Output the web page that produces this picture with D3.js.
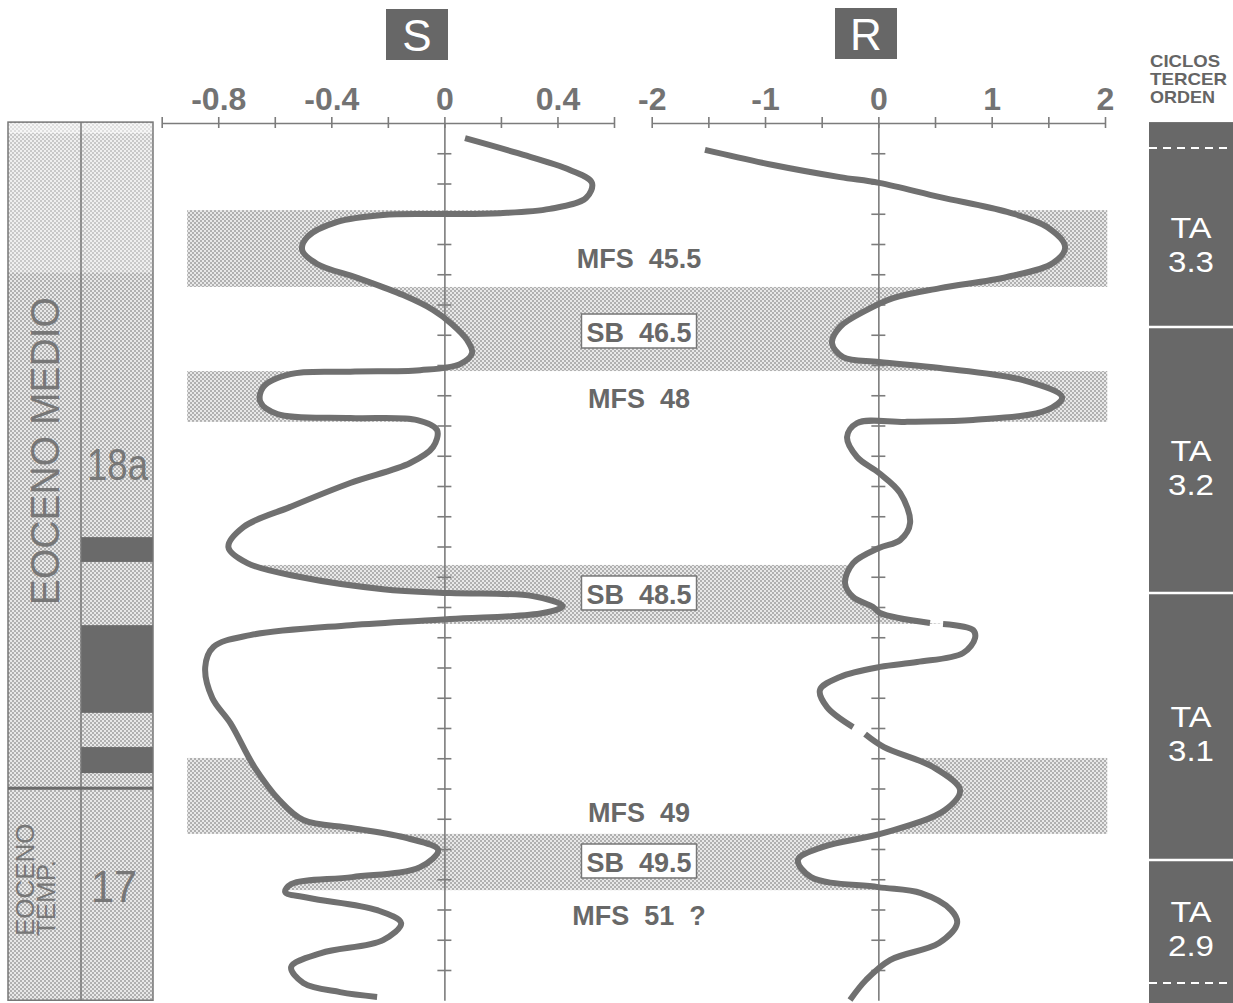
<!DOCTYPE html>
<html><head><meta charset="utf-8">
<script src="https://cdn.jsdelivr.net/npm/d3@7"></script>
<style>
html,body{margin:0;padding:0;background:#fff;}
svg{display:block;font-family:"Liberation Sans",Arial,sans-serif;}
text{white-space:pre;}
</style></head><body>
<svg id="chart" width="1233" height="1003"></svg>
<script>
// ---------- DATA ----------
const sTickValues = [-1.0,-0.8,-0.6,-0.4,-0.2,0,0.2,0.4,0.6];
const sTickLabels = ["","-0.8","","-0.4","","0","","0.4",""];
const rTickValues = [-2,-1.5,-1,-0.5,0,0.5,1,1.5,2];
const rTickLabels = ["-2","","-1","","0","","1","","2"];
const depthTicks = [1,2,3,4,5,6,7,8,9,10,11,12,13,14,15,16,17,18,19,20,21,22,23,24,25,26,27,28];

// S curve (depth in tick units, value on S axis)
const sDepth = [0.50,0.99,1.55,1.98,2.48,2.84,2.98,3.01,3.04,3.27,3.77,4.20,4.66,5.12,5.69,6.18,6.65,7.17,7.60,7.97,8.17,8.22,8.30,8.73,9.22,9.62,9.75,9.82,10.15,10.71,11.24,11.90,12.69,13.36,14.02,14.55,15.01,15.41,15.54,15.64,15.97,16.20,16.40,16.60,16.93,17.32,17.98,19.01,19.84,21.29,22.38,23.04,23.31,23.64,24.03,24.60,24.93,25.16,25.42,25.62,26.02,26.45,27.01,27.44,27.90,28.43,28.73,28.89];
const sValue = [0.073,0.257,0.444,0.522,0.501,0.373,0.197,-0.005,-0.217,-0.379,-0.485,-0.503,-0.450,-0.308,-0.146,-0.040,0.027,0.080,0.098,0.055,-0.086,-0.333,-0.545,-0.641,-0.651,-0.591,-0.333,-0.096,-0.026,-0.040,-0.121,-0.333,-0.545,-0.711,-0.764,-0.697,-0.510,-0.217,0.020,0.313,0.419,0.349,0.020,-0.333,-0.687,-0.817,-0.846,-0.821,-0.757,-0.672,-0.584,-0.499,-0.326,-0.132,-0.022,-0.086,-0.326,-0.542,-0.563,-0.478,-0.238,-0.153,-0.217,-0.436,-0.542,-0.499,-0.369,-0.238];

// R curve (null = break in the line)
const rDepth = [0.89,1.39,1.79,1.98,2.45,2.94,3.44,4.10,4.63,5.09,5.46,5.79,6.18,6.74,7.27,7.74,7.90,8.10,8.50,9.06,9.49,9.82,9.88,9.92,10.38,11.04,11.57,12.23,13.22,13.79,14.05,14.55,15.21,15.67,16.00,16.20,16.53,16.545,16.56,16.76,17.03,17.52,17.82,17.98,18.31,18.74,19.31,19.97,20.08,20.20,20.63,21.29,22.05,22.71,23.47,23.93,24.36,24.93,25.26,25.46,26.02,26.45,27.11,27.67,28.33,28.99];
const rValue = [-1.530,-0.929,-0.338,0.006,0.545,1.136,1.489,1.648,1.542,1.136,0.545,0.130,-0.100,-0.338,-0.409,-0.312,0.006,0.545,1.277,1.621,1.489,0.836,0.253,-0.188,-0.276,-0.188,0.006,0.192,0.280,0.192,0.006,-0.223,-0.294,-0.223,-0.047,0.015,0.456,null,0.571,0.836,0.853,0.748,0.342,0.015,-0.338,-0.515,-0.453,-0.223,null,-0.117,0.050,0.483,0.721,0.589,0.050,-0.488,-0.709,-0.594,-0.003,0.377,0.642,0.695,0.536,0.103,-0.109,-0.250];

// Shaded intervals
const bandKind   = ["MFS","SB","MFS","SB","MFS","SB"];
const bandTop    = [2.88,5.42,8.20,14.61,20.99,23.50];
const bandBottom = [5.42,8.20,9.88,16.56,23.50,25.36];

// Surface labels
const labelText  = ["MFS  45.5","SB  46.5","MFS  48","SB  48.5","MFS  49","SB  49.5","MFS  51  ?"];
const labelDepth = [4.79,7.24,9.42,15.90,23.11,24.76,26.51];
const labelBoxed = [false,true,false,true,false,true,false];

// Left column
const epochNames  = [["EOCENO MEDIO"],["EOCENO","TEMP."]];
const epochTop    = [-0.03,21.99];
const epochBottom = [21.99,29.0];
const zoneNames   = ["18a","17"];
const darkTop     = [13.69,16.60,20.63];
const darkBottom  = [14.51,19.50,21.49];

// Third-order cycles
const cycleNames  = [["TA","3.3"],["TA","3.2"],["TA","3.1"],["TA","2.9"]];
const cycleTop    = [0.83,6.74,15.54,24.36];
const cycleBottom = [6.74,15.54,24.36,28.43];
const cycleTitle  = ["CICLOS","TERCER","ORDEN"];

// ---------- SCALES ----------
const W = 1233, H = 1003;
const svg = d3.select("#chart");
const xS = d3.scaleLinear().domain([-1.0,0.6]).range([161.7,614]);
const xR = d3.scaleLinear().domain([-2,2]).range([651.7,1105]);
const y  = d3.scaleLinear().domain([0,29]).range([123,1000.25]);

const GRAY = "#707070", AX = "#7c7c7c", DARK = "#6a6a6a";
const curve = d3.curveCatmullRom.alpha(0.5);

const sData = sDepth.map((d,i)=>({d, v:sValue[i]}));
const rData = rDepth.map((d,i)=>({d, v:rValue[i]}));
const rFull = rData.filter(p=>p.v!==null);

// ---------- DEFS ----------
const defs = svg.append("defs");
const pat = defs.append("pattern").attr("id","stip").attr("width",4).attr("height",4).attr("patternUnits","userSpaceOnUse");
pat.append("rect").attr("width",4).attr("height",4).attr("fill","#e8e8e8");
pat.append("rect").attr("x",0).attr("y",0).attr("width",2).attr("height",2).attr("fill","#b0b0b0");
pat.append("rect").attr("x",2).attr("y",2).attr("width",2).attr("height",2).attr("fill","#b0b0b0");

function addClip(id, data, x0, x1){
  defs.append("clipPath").attr("id",id).append("path")
    .attr("d", d3.area().curve(curve).y(p=>y(p.d)).x0(x0).x1(x1)(data));
}
addClip("leftS",  sData, ()=>0, p=>xS(p.v));
addClip("rightS", sData, p=>xS(p.v), ()=>W);
addClip("leftR",  rFull, ()=>0, p=>xR(p.v));
addClip("rightR", rFull, p=>xR(p.v), ()=>W);

// ---------- BANDS ----------
const bandX0 = xS(-0.91), bandX1 = xR(2.02);
const gBands = svg.append("g");
bandKind.forEach((k,i)=>{
  const rectAttrs = sel => sel.attr("x",bandX0).attr("y",y(bandTop[i]))
      .attr("width",bandX1-bandX0).attr("height",y(bandBottom[i])-y(bandTop[i])).attr("fill","url(#stip)");
  if(k==="MFS"){
    gBands.append("g").attr("clip-path","url(#leftS)").append("rect").call(rectAttrs);
    gBands.append("g").attr("clip-path","url(#rightR)").append("rect").call(rectAttrs);
  } else {
    gBands.append("g").attr("clip-path","url(#rightS)")
      .append("g").attr("clip-path","url(#leftR)").append("rect").call(rectAttrs);
  }
});

// ---------- LEFT COLUMN ----------
const cL = 8, cM = 81, cR = 153;
const gL = svg.append("g");
gL.append("rect").attr("x",cL).attr("y",y(epochTop[0])).attr("width",cR-cL)
  .attr("height",y(29)-y(epochTop[0])).attr("fill","url(#stip)");
gL.append("rect").attr("x",cL).attr("y",y(0.3)).attr("width",cR-cL).attr("height",y(4.95)-y(0.3))
  .attr("fill","#fff").attr("opacity",0.3);
gL.append("rect").attr("x",cL).attr("y",y(0)).attr("width",cR-cL).attr("height",y(0.33)-y(0))
  .attr("fill","#fff").attr("opacity",0.6);
darkTop.forEach((t,i)=>{
  gL.append("rect").attr("x",cM).attr("y",y(t)).attr("width",cR-cM).attr("height",y(darkBottom[i])-y(t)).attr("fill",DARK);
});
gL.append("rect").attr("x",cL).attr("y",y(epochTop[0])).attr("width",cR-cL)
  .attr("height",y(29)-y(epochTop[0])).attr("fill","none").attr("stroke","#777").attr("stroke-width",1.5);
gL.append("line").attr("x1",cM).attr("x2",cM).attr("y1",y(epochTop[0])).attr("y2",y(29)).attr("stroke","#777").attr("stroke-width",1.5);
gL.append("line").attr("x1",cL).attr("x2",cR).attr("y1",y(epochBottom[0])).attr("y2",y(epochBottom[0])).attr("stroke","#6a6a6a").attr("stroke-width",3);

// epoch texts
gL.append("text").attr("transform",`translate(59,${(y(-0.03)+y(21.99))/2 - 4}) rotate(-90)`)
  .attr("text-anchor","middle").attr("font-size",40).attr("fill","#777")
  .attr("textLength",308).attr("lengthAdjust","spacingAndGlyphs").text(epochNames[0][0]);
epochNames[1].forEach((t,j)=>{
  gL.append("text").attr("transform",`translate(${34+j*21},${y(26.88)}) rotate(-90)`)
    .attr("text-anchor","start").attr("font-size",26).attr("fill","#777").text(t);
});
gL.append("text").attr("x",87).attr("y",y(11.8)).attr("font-size",44).attr("fill","#777")
  .attr("textLength",61).attr("lengthAdjust","spacingAndGlyphs").text(zoneNames[0]);
gL.append("text").attr("x",91).attr("y",y(25.75)).attr("font-size",44).attr("fill","#777")
  .attr("textLength",46).attr("lengthAdjust","spacingAndGlyphs").text(zoneNames[1]);

// ---------- RIGHT COLUMN ----------
const rc0 = 1149;
const gC = svg.append("g");
gC.append("rect").attr("x",rc0).attr("y",y(-0.03)).attr("width",W-rc0).attr("height",H-y(-0.03)).attr("fill","#686868");
const bounds = [cycleTop[0], ...cycleBottom];
bounds.forEach((b,i)=>{
  const outer = (i===0 || i===bounds.length-1);
  gC.append("line").attr("x1",rc0).attr("x2",W).attr("y1",y(b)).attr("y2",y(b))
    .attr("stroke","#fff").attr("stroke-width",outer?2:2.5)
    .attr("stroke-dasharray",outer?"8,6":null);
});
cycleNames.forEach((lines,i)=>{
  const c = (y(cycleTop[i])+y(cycleBottom[i]))/2;
  lines.forEach((t,j)=>{
    gC.append("text").attr("x",1191).attr("y",c+1+j*34).attr("text-anchor","middle")
      .attr("font-size",29).attr("fill","#fff")
      .attr("textLength",j===0?41:46).attr("lengthAdjust","spacingAndGlyphs").text(t);
  });
});
const titleW = [70,77,65];
cycleTitle.forEach((t,j)=>{
  svg.append("text").attr("x",1150).attr("y",67+j*18).attr("font-size",17).attr("font-weight","bold")
    .attr("fill","#656565").attr("textLength",titleW[j]).attr("lengthAdjust","spacingAndGlyphs").text(t);
});

// ---------- AXES ----------
function styleAxis(g){
  g.selectAll("path.domain").attr("stroke",AX).attr("stroke-width",1.6);
  g.selectAll(".tick line").attr("stroke",AX).attr("stroke-width",1.6);
}
const axS = d3.axisTop(xS).tickValues(sTickValues).tickFormat((d,i)=>sTickLabels[i]).tickSize(6).tickSizeOuter(0).tickPadding(7);
const gSx = svg.append("g").attr("transform",`translate(0,${y(0)})`).call(axS);
const axR = d3.axisTop(xR).tickValues(rTickValues).tickFormat((d,i)=>rTickLabels[i]).tickSize(6).tickSizeOuter(0).tickPadding(7);
const gRx = svg.append("g").attr("transform",`translate(0,${y(0)})`).call(axR);
[gSx,gRx].forEach(g=>{
  styleAxis(g);
  g.selectAll(".tick line").attr("y1",5);
  g.selectAll(".tick text").attr("font-size",32).attr("font-weight","bold").attr("fill","#737373")
    .attr("font-family","Liberation Sans, Arial, sans-serif");
});
[[xS,0],[xR,0]].forEach(([sc,v])=>{
  const g = svg.append("g").attr("transform",`translate(${sc(v)},0)`)
    .call(d3.axisRight(y).tickValues(depthTicks).tickSize(7).tickSizeOuter(0).tickFormat(""));
  styleAxis(g);
  g.selectAll(".tick line").attr("x1",-7);
});

// ---------- CURVES ----------
const line = d3.line().curve(curve).defined(p=>p.v!==null).y(p=>y(p.d));
svg.append("path").attr("d", line.x(p=>xS(p.v))(sData)).attr("fill","none")
  .attr("stroke",GRAY).attr("stroke-width",6).attr("stroke-linecap","butt");
svg.append("path").attr("d", line.x(p=>xR(p.v))(rData)).attr("fill","none")
  .attr("stroke",GRAY).attr("stroke-width",6).attr("stroke-linecap","butt");

// ---------- HEADERS ----------
[["S",386,9],["R",835,8]].forEach(([t,x0,y0])=>{
  svg.append("rect").attr("x",x0).attr("y",y0).attr("width",62).attr("height",51).attr("fill","#676767");
  svg.append("text").attr("x",x0+31).attr("y",y0+42).attr("text-anchor","middle")
    .attr("font-size",44).attr("fill","#fff").text(t);
});

// ---------- SURFACE LABELS ----------
const labelX = 639;
labelText.forEach((t,i)=>{
  const yy = y(labelDepth[i]);
  const g = svg.append("g");
  const txt = g.append("text").attr("x",labelX).attr("y",yy).attr("text-anchor","middle")
    .attr("font-size",27).attr("font-weight","bold").attr("fill","#686868").text(t);
  if(labelBoxed[i]){
    const bb = txt.node().getBBox();
    g.insert("rect","text").attr("x",bb.x-5).attr("y",yy-28).attr("width",bb.width+10).attr("height",34)
      .attr("fill","#fff").attr("stroke","#777").attr("stroke-width",1.5);
  }
});
</script>
</body></html>
